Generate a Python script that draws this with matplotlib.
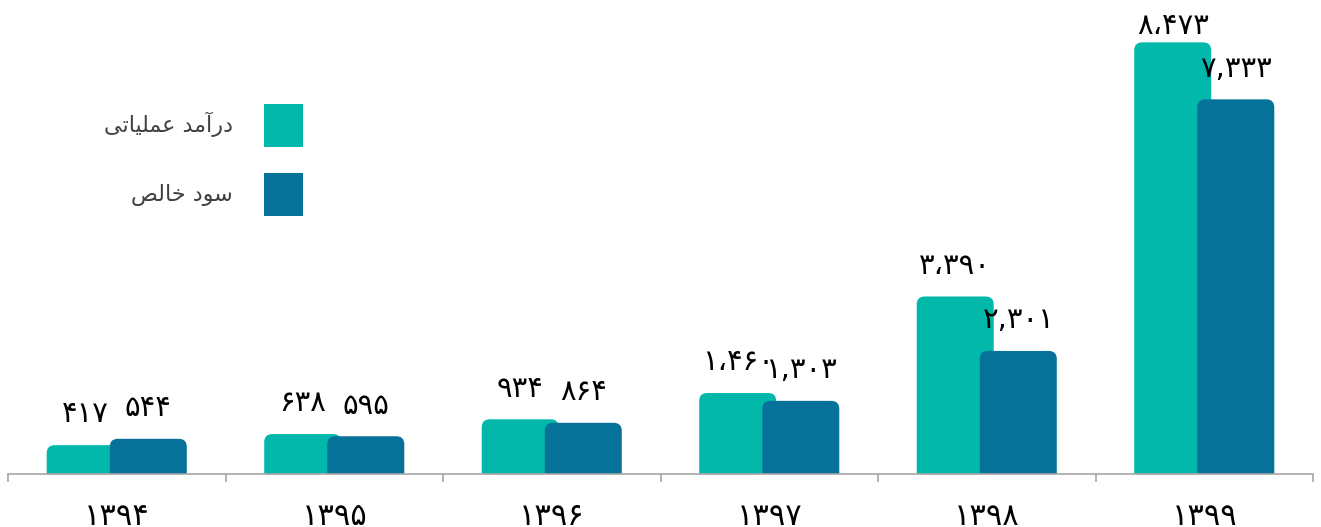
import numpy as np
import matplotlib
matplotlib.use("Agg")
import matplotlib.pyplot as plt
from matplotlib.patches import FancyBboxPatch, Patch

plt.rcParams['font.family'] = ['DejaVu Sans']

# سال‌ها و مقادیر (میلیارد ریال)
years = ['۱۳۹۴', '۱۳۹۵', '۱۳۹۶', '۱۳۹۷', '۱۳۹۸', '۱۳۹۹']
revenue = [417, 638, 934, 1460, 3390, 8473]
net_profit = [544, 595, 864, 1303, 2301, 7333]
revenue_labels = ['۴۱۷', '۶۳۸', '۹۳۴', '۱،۴۶۰', '۳،۳۹۰', '۸،۴۷۳']
profit_labels = ['۵۴۴', '۵۹۵', '۸۶۴', '۱,۳۰۳', '۲,۳۰۱', '۷,۳۳۳']

# persian text written in visual order with presentation forms
# (matplotlib has no arabic shaping)
revenue_name = '\uFBFD\uFE97\uFE8E\uFBFF\uFEE0\uFEE4\uFECB \uFEAA\uFEE3\uFE81\uFEAD\uFEA9'
profit_name = '\uFEBA\uFEDF\uFE8E\uFEA7 \uFEA9\uFEEE\uFEB3'

teal = '#01B8AA'
blue = '#077299'
axis_grey = '#A6A6A6'

W, H = 1321, 527
fig = plt.figure(figsize=(W / 100, H / 100), dpi=100)
ax = fig.add_axes([8 / W, 1 - 474 / H, 1305 / W, 474 / H])

base = -160
top = 9320
x = np.arange(len(years))
bw = 0.354
off = 0.145

b1 = ax.bar(x - off, np.array(revenue) - base, bw, bottom=base, color=teal)
b2 = ax.bar(x + off, np.array(net_profit) - base, bw, bottom=base, color=blue)

ax.set_xlim(-0.5, len(years) - 0.5)
ax.set_ylim(base, top)

# px per data unit for rounding corners
px_x = 1305 / len(years)
px_y = 474 / (top - base)
r_px = 8
r_x = r_px / px_x
aspect = (r_px / px_y) / r_x

for bars, col in [(b1, teal), (b2, blue)]:
    for rect in bars:
        x0, y0 = rect.get_x(), rect.get_y()
        w, h = rect.get_width(), rect.get_height()
        fb = FancyBboxPatch((x0, y0 - 400), w, h + 400,
                            boxstyle=f"round,pad=0,rounding_size={r_x}",
                            mutation_aspect=aspect, facecolor=col,
                            edgecolor='none', zorder=2)
        ax.add_patch(fb)
        rect.remove()


def put_label(txt, xv, v):
    # keep label inside the figure like excel does
    room_px = (top - v) * px_y
    off_pt = min(12, (room_px - 40) * 0.72)
    ax.annotate(txt, (xv, v), xytext=(0, off_pt), textcoords='offset points',
                ha='center', va='bottom', fontsize=21, color='black')


for i in range(len(years)):
    put_label(revenue_labels[i], x[i] - off, revenue[i])
    put_label(profit_labels[i], x[i] + off, net_profit[i])

for s in ['top', 'right', 'left']:
    ax.spines[s].set_visible(False)
ax.spines['bottom'].set_color(axis_grey)
ax.spines['bottom'].set_linewidth(1.2)
ax.spines['bottom'].set_zorder(3)

ax.set_yticks([])
ax.set_xticks(x)
ax.set_xticklabels(years, fontsize=22, color='black')
ax.tick_params(axis='x', which='major', length=0, pad=20)
ax.set_xticks(np.arange(-0.5, len(years)), minor=True)
ax.tick_params(axis='x', which='minor', length=6, width=1.2, color=axis_grey)

handles = [Patch(facecolor=teal), Patch(facecolor=blue)]
fig.legend(handles, [revenue_name, profit_name], loc='upper right',
           bbox_to_anchor=(303 / W, 1 - 104 / H), markerfirst=False,
           frameon=False, fontsize=16, handlelength=1.75, handleheight=2.6,
           handletextpad=1.4, labelspacing=1.15, borderpad=0, borderaxespad=0,
           labelcolor='#404040')

fig.savefig('out.png', dpi=100)
